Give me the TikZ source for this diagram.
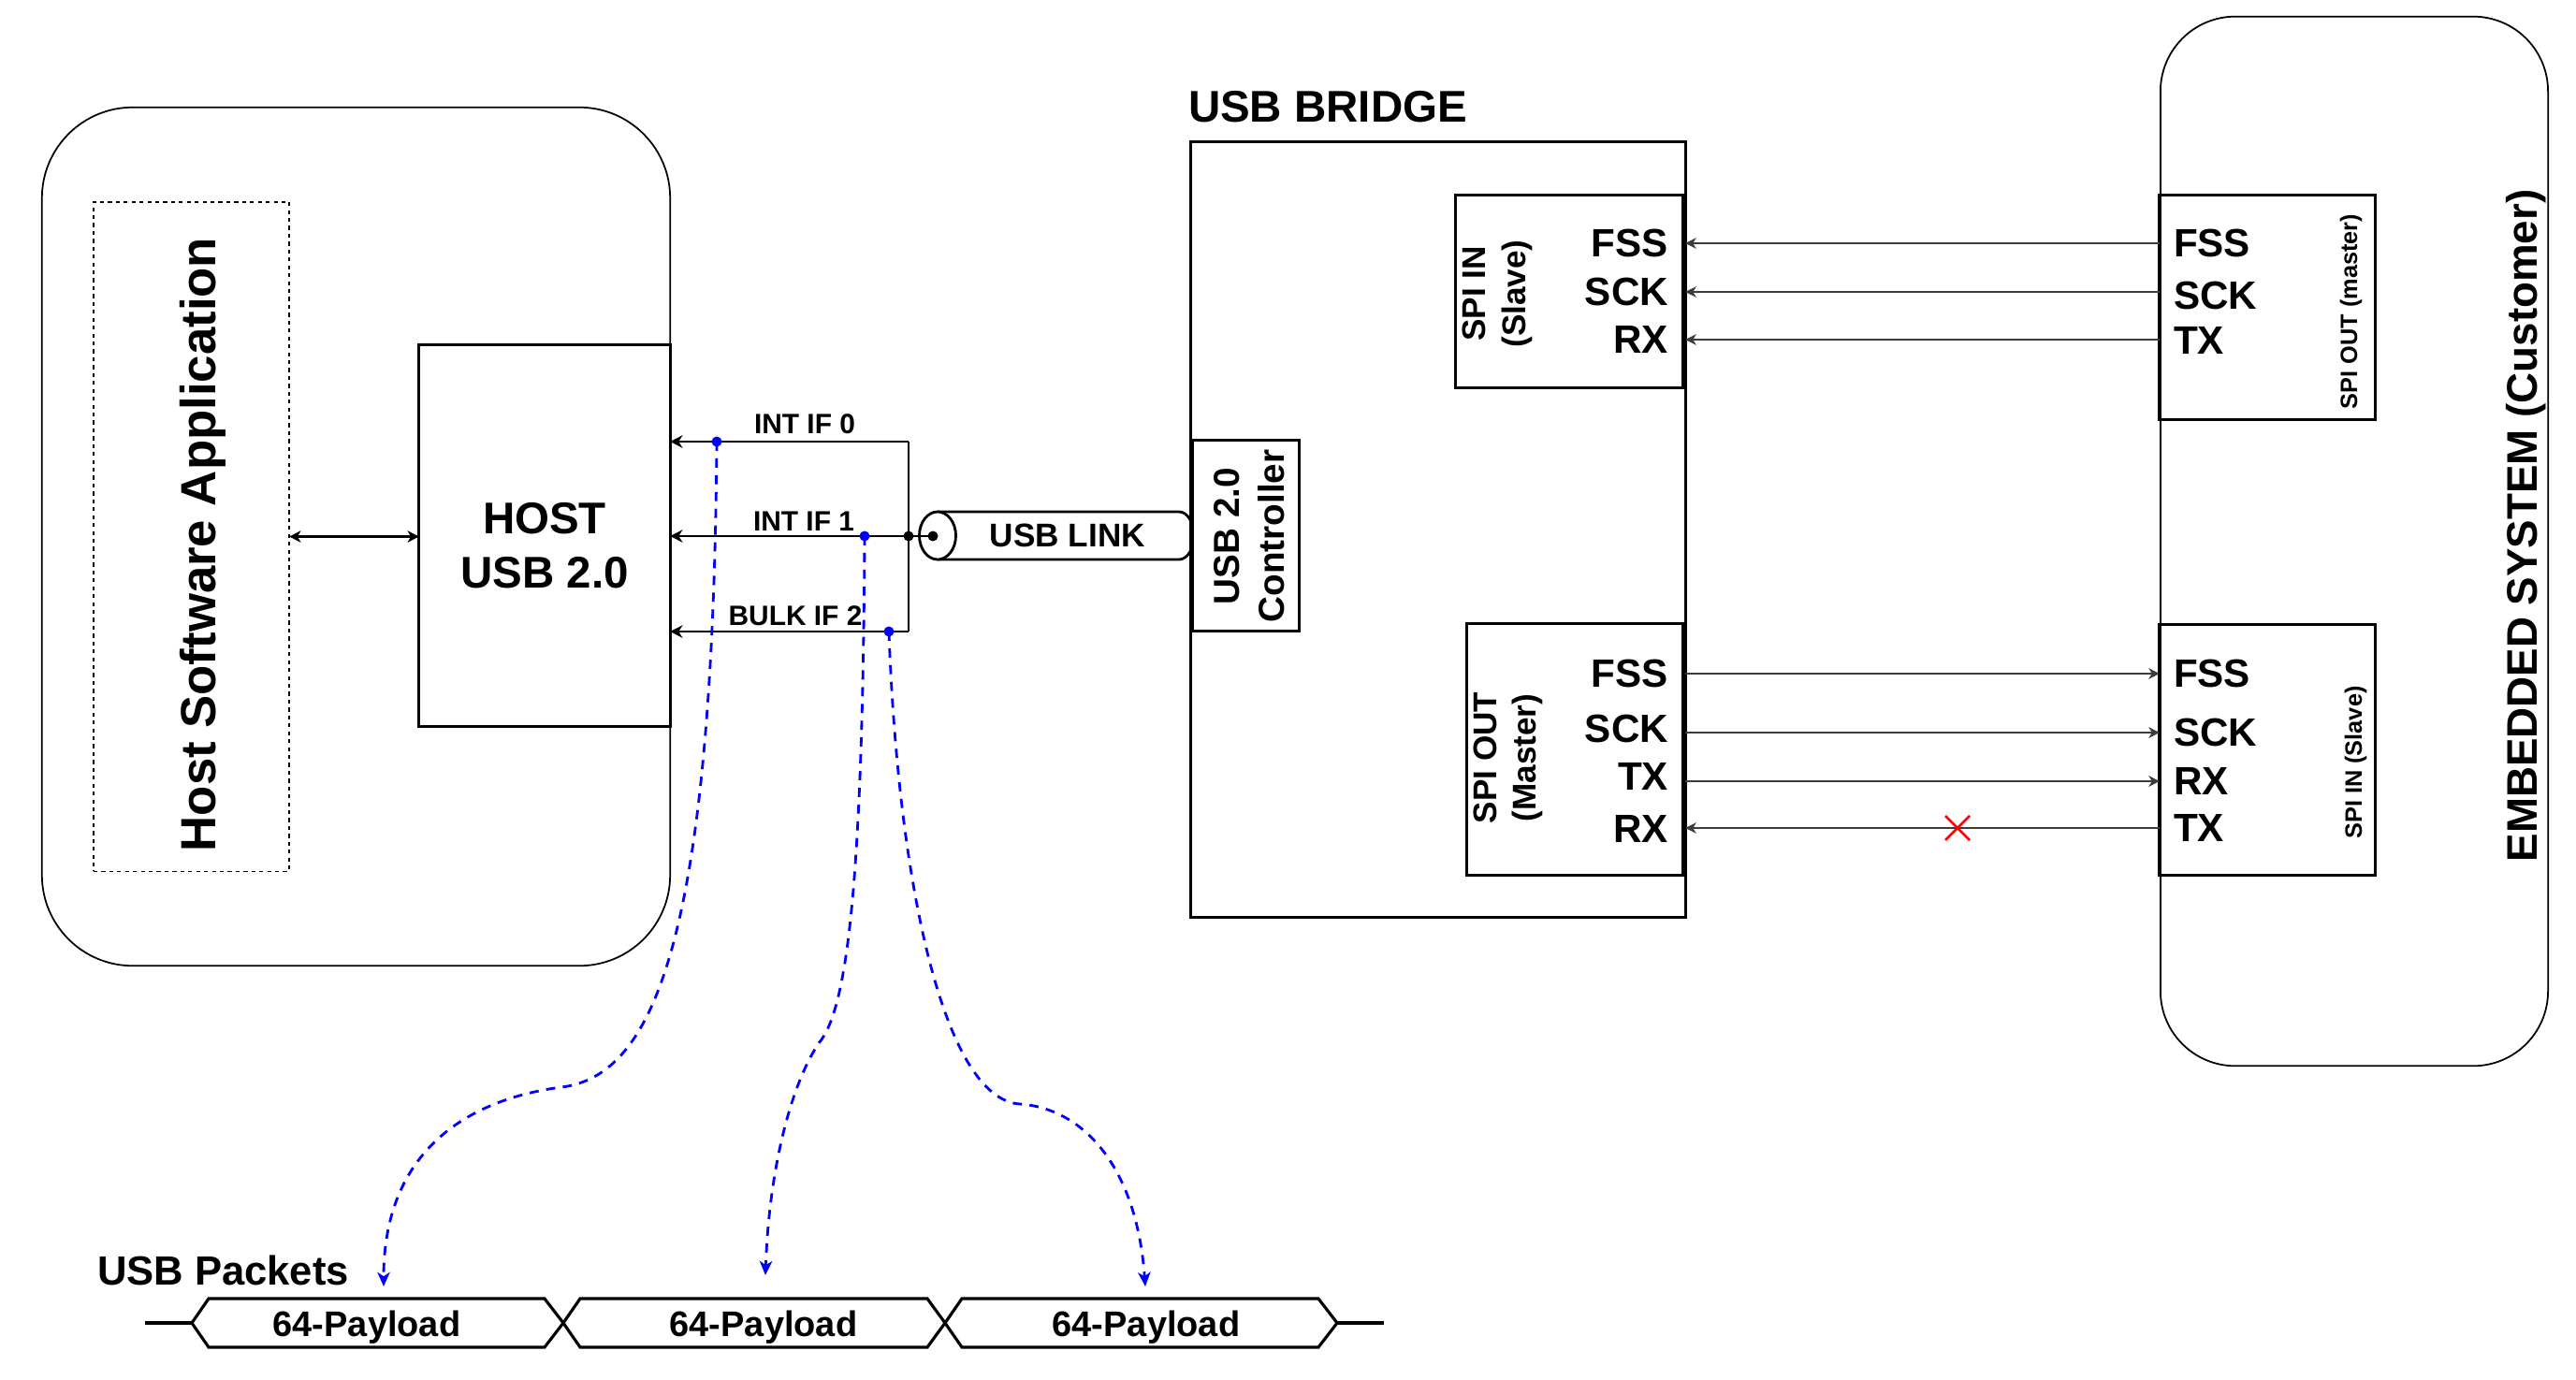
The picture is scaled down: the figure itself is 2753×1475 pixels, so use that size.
\documentclass[tikz,border=0pt]{standalone}
\usepackage{fontspec}
\setmainfont{Liberation Sans}
\usetikzlibrary{arrows.meta,calc}
\newcommand{\myfont}[2]{\fontsize{#1pt}{#2pt}\selectfont\bfseries}
\definecolor{sigcol}{RGB}{60,60,60}
\begin{document}
\begin{tikzpicture}[x=0.01cm,y=-0.01cm,
  box/.style={draw=black,line width=0.85pt,inner sep=0pt,outer sep=0pt},
  rbox/.style={draw=black,line width=0.5pt,inner sep=0pt,outer sep=0pt},
  dbox/.style={draw=black,line width=0.4pt,dash pattern=on 1.2pt off 1.2pt,inner sep=0pt,outer sep=0pt},
  txt/.style={inner sep=0pt,outer sep=0pt},
  lab/.style={txt,font=\myfont{12}{14}},
  sig/.style={draw=sigcol,line width=0.6pt,-{Stealth[length=3.3pt,width=3.3pt,inset=1pt]}},
  intl/.style={draw=black,line width=0.8pt},
  intarrow/.style={intl,-{Stealth[length=3.8pt,width=3.8pt,inset=1.2pt]}},
  flow/.style={draw=blue,line width=0.8pt,dash pattern=on 2.8pt off 2.3pt,-{Stealth[length=4.3pt,width=3.8pt,inset=1.2pt]}},
  pkt/.style={draw=black,line width=0.9pt,line join=miter}
]
\useasboundingbox (0,0) rectangle (2753,1475);

% ---------------- Host side ----------------
\node[rbox,rounded corners=0.97cm,minimum width=6.71cm,minimum height=9.17cm] (hostsys) at (380.5,573.5) {};
\node[dbox,minimum width=2.09cm,minimum height=7.15cm] (app) at (204.5,573.5) {};
\node[txt,font=\myfont{15}{18},rotate=90,anchor=base] (apptxt) at (230,582) {Host Software Application};
\node[box,minimum width=2.68cm,minimum height=4.07cm] (host) at (582,572.5) {};
\node[txt,font=\myfont{13.5}{16.5},align=center] (hosttxt) at (582,583) {HOST\\USB 2.0};
\draw[line width=0.6pt,{Stealth[length=3.5pt,width=3.5pt,inset=1pt]}-{Stealth[length=3.5pt,width=3.5pt,inset=1pt]}]
  (app.east) -- (app.east -| host.west);

% ---------------- interfaces ----------------
\coordinate (c0) at (971,472);
\coordinate (j) at (971,573);
\coordinate (c2) at (971,675);
\draw[intl] (c0) -- (c2);
\draw[intarrow] (c0) -- (c0 -| host.east);
\draw[intarrow] (j) -- (j -| host.east);
\draw[intarrow] (c2) -- (c2 -| host.east);
\node[txt,font=\myfont{8.5}{10}] (if0) at (860,453) {INT IF 0};
\node[txt,font=\myfont{8.5}{10}] (if1) at (859,557) {INT IF 1};
\node[txt,font=\myfont{8.5}{10}] (if2) at (850,658) {BULK IF 2};
\fill (j) circle[radius=0.055cm];

% ---------------- USB link cylinder ----------------
\coordinate (cylc) at (1002,572.5);
\coordinate (cyldot) at (997,573);
\filldraw[fill=white,draw=black,line width=0.8pt] (1002,547) -- (1260,547)
  arc[start angle=90,end angle=-90,x radius=0.16cm,y radius=0.255cm] -- (1002,598);
\filldraw[fill=white,draw=black,line width=0.8pt] (cylc) ellipse[x radius=0.195cm,y radius=0.255cm];
\draw[intl] (j) -- (cyldot);
\fill (cyldot) circle[radius=0.055cm];
\node[txt,font=\myfont{10}{12}] (link) at (1141,572) {USB LINK};

% ---------------- USB bridge ----------------
\node[box,minimum width=5.28cm,minimum height=8.28cm] (bridge) at (1537,566) {};
\node[txt,font=\myfont{13.5}{16},anchor=base west] (bridgetxt) at (1270,130) {USB BRIDGE};
\node[box,fill=white,minimum width=1.13cm,minimum height=2.03cm] (ctrl) at (1331.5,572.5) {};
\node[txt,font=\myfont{11}{13.7},rotate=90,align=center] (ctrltxt) at (1335,573) {USB 2.0\\Controller};

\node[box,minimum width=2.42cm,minimum height=2.05cm] (spiin) at (1677,311.5) {};
\node[txt,font=\myfont{10}{12.2},rotate=90,align=center] (spiintxt) at (1600,314) {SPI IN\\(Slave)};
\node[lab,anchor=east] (bFSSa) at (1783,260) {FSS};
\node[lab,anchor=east] (bSCKa) at (1783,312) {SCK};
\node[lab,anchor=east] (bRXa) at (1783,363) {RX};

\node[box,minimum width=2.30cm,minimum height=2.68cm] (spiout) at (1683,801) {};
\node[txt,font=\myfont{10}{12},rotate=90,align=center] (spiouttxt) at (1612,810) {SPI OUT\\(Master)};
\node[lab,anchor=east] (bFSSb) at (1783,720) {FSS};
\node[lab,anchor=east] (bSCKb) at (1783,779) {SCK};
\node[lab,anchor=east] (bTXb) at (1783,830) {TX};
\node[lab,anchor=east] (bRXb) at (1783,886) {RX};

% ---------------- Embedded system ----------------
\node[rbox,rounded corners=0.8cm,minimum width=4.14cm,minimum height=11.21cm] (emb) at (2516,578.5) {};
\node[txt,font=\myfont{13}{15},rotate=90,anchor=base] (embtxt) at (2711,562) {EMBEDDED SYSTEM (Customer)};

\node[box,minimum width=2.30cm,minimum height=2.39cm] (rso) at (2423,328.5) {};
\node[txt,font=\myfont{7.2}{9},rotate=90,anchor=base] (rsotxt) at (2519,333) {SPI OUT (master)};
\node[lab,anchor=west] (rFSSa) at (2323,260) {FSS};
\node[lab,anchor=west] (rSCKa) at (2323,316) {SCK};
\node[lab,anchor=west] (rTXa) at (2323,364) {TX};

\node[box,minimum width=2.30cm,minimum height=2.67cm] (rsi) at (2423,801.5) {};
\node[txt,font=\myfont{7.2}{9},rotate=90,anchor=base] (rsitxt) at (2524,815) {SPI IN (Slave)};
\node[lab,anchor=west] (rFSSb) at (2323,720) {FSS};
\node[lab,anchor=west] (rSCKb) at (2323,783) {SCK};
\node[lab,anchor=west] (rRXb) at (2323,835) {RX};
\node[lab,anchor=west] (rTXb) at (2323,885) {TX};

% ---------------- SPI signals ----------------
\draw[sig] (rso.west |- bFSSa) -- (bridge.east |- bFSSa);
\draw[sig] (rso.west |- bSCKa) -- (bridge.east |- bSCKa);
\draw[sig] (rso.west |- bRXa) -- (bridge.east |- bRXa);
\draw[sig] (bridge.east |- rFSSb) -- (rsi.west |- rFSSb);
\draw[sig] (bridge.east |- rSCKb) -- (rsi.west |- rSCKb);
\draw[sig] (bridge.east |- rRXb) -- (rsi.west |- rRXb);
\draw[sig] (rsi.west |- rTXb) -- (bridge.east |- rTXb);
\coordinate (xmark) at (2092,885);
\draw[red,line width=0.75pt] ($(xmark)+(-13,-13)$) -- ($(xmark)+(13,13)$)
  ($(xmark)+(-13,13)$) -- ($(xmark)+(13,-13)$);

% ---------------- USB packets ----------------
\draw[pkt] (155,1414) -- (205,1414);
\draw[pkt] (205,1414) -- (223,1388) -- (582,1388) -- (602,1414) -- (582,1440) -- (223,1440) -- cycle;
\draw[pkt] (602,1414) -- (620,1388) -- (991,1388) -- (1010,1414) -- (991,1440) -- (620,1440) -- cycle;
\draw[pkt] (1010,1414) -- (1028,1388) -- (1409,1388) -- (1429,1414) -- (1409,1440) -- (1028,1440) -- cycle;
\draw[pkt] (1429,1414) -- (1479,1414);
\node[txt,font=\myfont{10.8}{13},anchor=base] (pl1) at (392,1428) {64-Payload};
\node[txt,font=\myfont{10.8}{13},anchor=base] (pl2) at (816,1428) {64-Payload};
\node[txt,font=\myfont{10.8}{13},anchor=base] (pl3) at (1225,1428) {64-Payload};
\node[txt,font=\myfont{12.4}{15},anchor=base west] (pkttxt) at (104,1373) {USB Packets};

% ---------------- blue flows ----------------
\coordinate (d0) at (766,472);
\coordinate (d1) at (924,573);
\coordinate (d2) at (950,675);
\coordinate (p0) at (410,1375);
\coordinate (p1) at (818,1363);
\coordinate (p2) at (1224,1375);
\draw[flow] (d0) .. controls (762,1000) and (700,1150) .. (600,1162)
  .. controls (500,1175) and (410,1230) .. (p0);
\draw[flow] (d1) .. controls (922,950) and (905,1080) .. (875,1115)
  .. controls (845,1160) and (822,1250) .. (p1);
\draw[flow] (d2) .. controls (960,950) and (1010,1175) .. (1090,1180)
  .. controls (1160,1185) and (1215,1250) .. (p2);
\fill[blue] (d0) circle[radius=0.055cm];
\fill[blue] (d1) circle[radius=0.055cm];
\fill[blue] (d2) circle[radius=0.055cm];
\end{tikzpicture}
\end{document}
